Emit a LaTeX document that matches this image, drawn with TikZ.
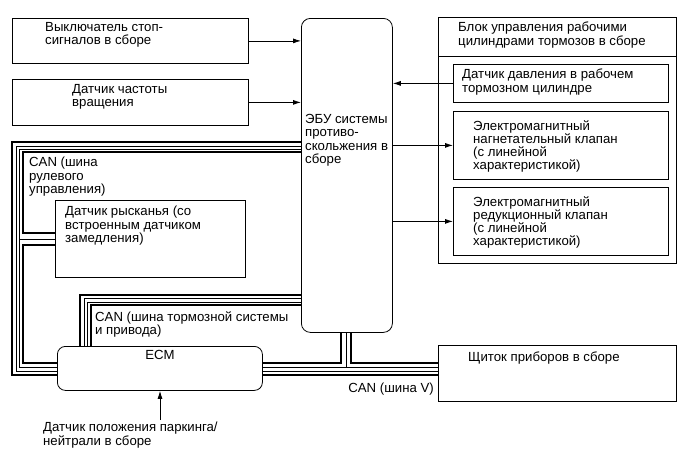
\documentclass[tikz,border=0pt]{standalone}
\usepackage{fontspec}
\setmainfont{Liberation Sans}
\usetikzlibrary{arrows.meta,calc}
\begin{document}
\begin{tikzpicture}[x=1pt,y=-1pt,
  box/.style={draw, line width=0.8pt, inner sep=0pt, anchor=north west},
  rbox/.style={box, rounded corners=9pt},
  txt/.style={anchor=north west, inner sep=0pt, align=left,
    font=\fontsize{13.2}{13.3}\selectfont, execute at begin node={\rule{0pt}{10pt}}},
  arr/.style={line width=0.8pt, -{Latex[length=8pt,width=5pt]}},
  thk/.style={line width=2.2pt},
  thn/.style={line width=0.8pt}]
\useasboundingbox[fill=white] (0,0) rectangle (690,464);
% boxes
\node[box, minimum width=236pt, minimum height=45pt] (b1) at (12,18) {};
\node[box, minimum width=236pt, minimum height=46pt] (b2) at (12,79) {};
\node[rbox, minimum width=91pt, minimum height=314pt] (ecu) at (301,18) {};
\node[box, minimum width=238pt, minimum height=246pt] (blk) at (438,17) {};
\node[box, minimum width=215pt, minimum height=38pt] (s1) at (453,64) {};
\node[box, minimum width=215pt, minimum height=68pt] (s2) at (453,111) {};
\node[box, minimum width=215pt, minimum height=68pt] (s3) at (453,187) {};
\node[box, minimum width=190pt, minimum height=77pt] (yaw) at (55,200) {};
\node[rbox, rounded corners=8pt, minimum width=205pt, minimum height=44pt] (ecm) at (57,346) {};
\node[box, minimum width=238pt, minimum height=56pt] (shk) at (438,345) {};
\coordinate (park) at (160,420);
\draw[line width=0.8pt] (blk.west|-0,56) -- (blk.east|-0,56);
% texts
\node[txt] (t1) at (45,22) {Выключатель стоп-\\сигналов в сборе};
\node[txt] (t2) at (72,84) {Датчик частоты\\вращения};
\node[txt] (t3) at (305,114) {ЭБУ системы\\противо-\\скольжения в\\сборе};
\node[txt] (t4) at (458,22) {Блок управления рабочими\\цилиндрами тормозов в сборе};
\node[txt] (t5) at (462,69) {Датчик давления в рабочем\\тормозном цилиндре};
\node[txt] (t6) at (473,120) {Электромагнитный\\нагнетательный клапан\\(с линейной\\характеристикой)};
\node[txt] (t7) at (473,196) {Электромагнитный\\редукционный клапан\\(с линейной\\характеристикой)};
\node[txt] (t8) at (65,206) {Датчик рысканья (со\\встроенным датчиком\\замедления)};
\node[txt] (t9) at (29,157) {CAN (шина\\рулевого\\управления)};
\node[txt] (t10) at (95,311) {CAN (шина тормозной системы\\и привода)};
\node[txt, anchor=north] (t11) at (160,349) {ECM};
\node[txt] (t12) at (468,351) {Щиток приборов в сборе};
\node[txt, anchor=north east] (t13) at (434,382) {CAN (шина V)};
\node[txt] (t14) at (43,422) {Датчик положения паркинга/\\нейтрали в сборе};
% arrows
\draw[arr] (b1.east) -- (ecu.west|-b1.east);
\draw[arr] (b2.east) -- (ecu.west|-b2.east);
\draw[arr] (s1.west) -- (ecu.east|-s1.west);
\draw[arr] (ecu.east|-s2.west) -- (s2.west);
\draw[arr] (ecu.east|-s3.west) -- (s3.west);
\draw[arr] (park) -- (park|-ecm.south);
% steering CAN bus
\draw[thk] (ecu.west|-0,142) -- (12,142) -- (12,375) -- (ecm.west|-0,375);
\draw[thn] (ecu.west|-0,146) -- (16,146) -- (16,371) -- (ecm.west|-0,371);
\draw[thn] (ecu.west|-0,149) -- (19,149) -- (19,367) -- (ecm.west|-0,367);
\draw[thn] (19,239) -- (yaw.west|-0,239);
\draw[thk] (ecu.west|-0,152) -- (23,152) -- (23,233) -- (yaw.west|-0,233);
\draw[thk] (yaw.west|-0,245) -- (23,245) -- (23,363) -- (ecm.west|-0,363);
% brake CAN bus
\draw[thk] (ecu.west|-0,295) -- (80,295) -- (80,0|-ecm.north);
\draw[thn] (ecu.west|-0,298) -- (84,298) -- (84,0|-ecm.north);
\draw[thn] (ecu.west|-0,302) -- (87,302) -- (87,0|-ecm.north);
\draw[thk] (ecu.west|-0,305) -- (91,305) -- (91,0|-ecm.north);
% V CAN bus
\draw[thk] (ecm.east|-0,363) -- (341,363) -- (341,0|-ecu.south);
\draw[thn] (ecm.east|-0,367) -- (shk.west|-0,367);
\draw[thn] (346,0|-ecu.south) -- (346,367);
\draw[thk] (351,0|-ecu.south) -- (351,363) -- (shk.west|-0,363);
\draw[thn] (ecm.east|-0,371) -- (shk.west|-0,371);
\draw[thk] (ecm.east|-0,375) -- (shk.west|-0,375);
\end{tikzpicture}
\end{document}
